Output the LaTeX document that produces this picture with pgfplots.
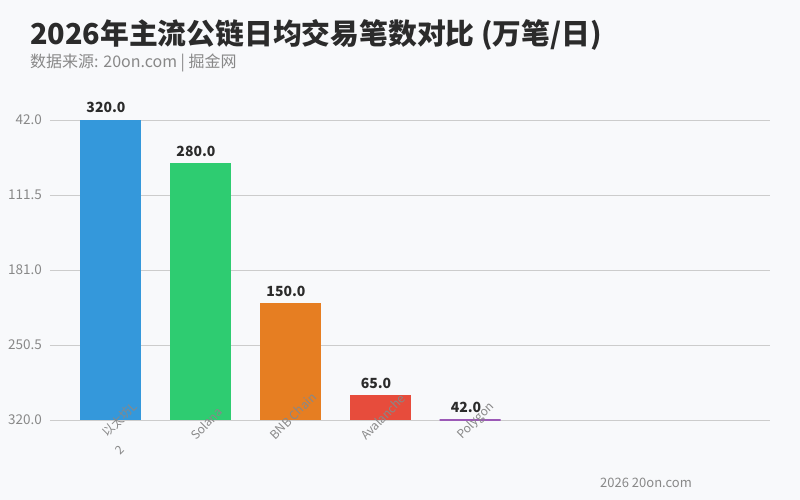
\documentclass[border=0pt]{standalone}
\usepackage{pgfplots}
\pgfplotsset{compat=1.18}
\usepackage{fontspec}
\setmainfont{Noto Sans CJK SC}
\definecolor{bgc}{HTML}{F8F9FB}
\definecolor{titlec}{HTML}{2B2B2B}
\definecolor{subc}{HTML}{888888}
\definecolor{tickc}{HTML}{888888}
\definecolor{gridc}{HTML}{CCCCCC}
\definecolor{valc}{HTML}{2B2B2B}
\definecolor{c1}{HTML}{3498DB}
\definecolor{c2}{HTML}{2ECC71}
\definecolor{c3}{HTML}{E67E22}
\definecolor{c4}{HTML}{E74C3C}
\definecolor{c5}{HTML}{9B59B6}
\begin{document}
\begin{tikzpicture}[x=1pt,y=1pt]
\fill[bgc] (0,0) rectangle (800,500);
\node[anchor=base west, font=\fontsize{28.8}{31}\selectfont\bfseries, text=titlec, inner sep=0] at (30,455) {2026年主流公链日均交易笔数对比 (万笔/日)};
\node[anchor=base west, font=\fontsize{16}{18}\selectfont, text=subc, inner sep=0] at (30,432) {数据来源: 20on.com | 掘金网};
\node[anchor=base west, font=\fontsize{13}{15}\selectfont, text=subc, inner sep=0] at (600,12) {2026 20on.com};
\begin{axis}[at={(50pt,80pt)}, anchor=south west, scale only axis, width=720pt, height=300pt,
 xmin=-0.6667, xmax=7.3333, ymin=0, ymax=278,
 axis line style={draw=none}, tick style={draw=none}, ymajorgrids, grid style={draw=gridc, line width=0.8pt},
 ytick={0,69.5,139,208.5,278}, yticklabels={320.0,250.5,181.0,111.5,42.0},
 yticklabel style={font=\fontsize{13.5}{15}\selectfont\addfontfeatures{Numbers=Monospaced}, text=tickc, anchor=east, inner sep=0pt, xshift=-8pt},
 xtick={0,1,2,3,4}, xticklabels={},
 ybar, bar width=61pt, y filter/.expression={y-42},
 point meta=explicit,
 nodes near coords={\pgfmathprintnumber[fixed,fixed zerofill,precision=1,assume math mode=true]{\pgfplotspointmeta}},
 nodes near coords style={font=\fontsize{14}{16}\selectfont\bfseries, text=valc, anchor=base, inner sep=0pt, xshift=-4pt, yshift=7pt},
 clip=false]
\addplot[bar shift=0pt, fill=c1, draw=none] coordinates {(0,320) [320]};
\addplot[bar shift=0pt, fill=c2, draw=none] coordinates {(1,280) [280]};
\addplot[bar shift=0pt, fill=c3, draw=none] coordinates {(2,150) [150]};
\addplot[bar shift=0pt, fill=c4, draw=none] coordinates {(3,65) [65]};
\addplot[bar shift=0pt, fill=c5, draw=c5, line width=1.5pt] coordinates {(4,42) [42]};
\tikzset{xl/.style={rotate=45, anchor=center, inner sep=0pt, font=\fontsize{12}{14}\selectfont, text=tickc}}
\node[xl] at ([shift={(9.5pt,0.5pt)}]axis cs:0,0) {以太坊L};
\node[xl] at ([shift={(6.5pt,-3.5pt)}]axis cs:1,0) {Solana};
\node[xl] at ([shift={(3pt,4pt)}]axis cs:2,0) {BNB Chain};
\node[xl] at ([shift={(3pt,3pt)}]axis cs:3,0) {Avalanche};
\node[xl] at ([shift={(6pt,-1pt)}]axis cs:4,0) {Polygon};
\node[xl] at ([shift={(10pt,-30.5pt)}]axis cs:0,0) {2};
\end{axis}
\pgfresetboundingbox
\useasboundingbox (0,0) rectangle (800,500);
\end{tikzpicture}
\end{document}
